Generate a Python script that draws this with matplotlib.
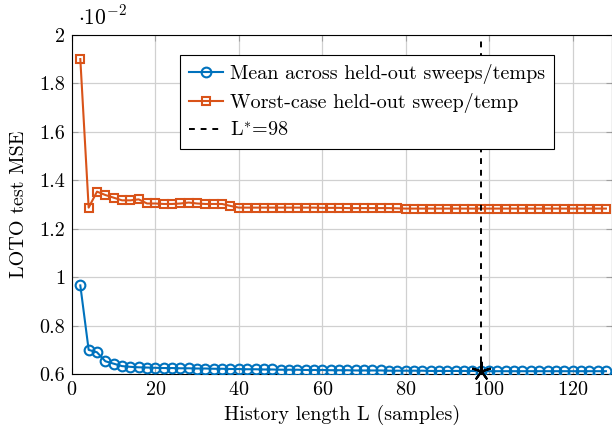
import numpy as np
import matplotlib
matplotlib.use("Agg")
import matplotlib.pyplot as plt

# Computer Modern look (the font files ship with matplotlib)
plt.rcParams['font.family'] = 'cmr10'
plt.rcParams['mathtext.fontset'] = 'cm'
plt.rcParams['axes.unicode_minus'] = False
plt.rcParams['axes.formatter.use_mathtext'] = True

# ---------------------------------------------------------
# Data (values in units of 1e-2)
# ---------------------------------------------------------
hist_len = list(range(2, 130, 2))

mean_mse = [0.966, 0.700, 0.690, 0.653, 0.643, 0.633, 0.630, 0.628,
            0.627, 0.626, 0.625, 0.625, 0.624, 0.624, 0.623, 0.623,
            0.622, 0.622, 0.621, 0.621, 0.620, 0.620, 0.619, 0.619,
            0.618, 0.618, 0.618, 0.617, 0.617, 0.617, 0.616, 0.616,
            0.616, 0.615, 0.615, 0.615, 0.615, 0.614, 0.614, 0.614,
            0.614, 0.614, 0.613, 0.613, 0.613, 0.613, 0.613, 0.613,
            0.612, 0.612, 0.612, 0.612, 0.612, 0.612, 0.612, 0.612,
            0.612, 0.612, 0.612, 0.612, 0.612, 0.612, 0.612, 0.612]

worst_mse = [1.900, 1.287, 1.353, 1.339, 1.328, 1.317, 1.317, 1.321,
             1.304, 1.304, 1.302, 1.302, 1.304, 1.308, 1.304, 1.302,
             1.302, 1.302, 1.294, 1.287, 1.287, 1.287, 1.287, 1.287,
             1.287, 1.287, 1.287, 1.287, 1.287, 1.286, 1.286, 1.286,
             1.285, 1.285, 1.285, 1.285, 1.285, 1.285, 1.284, 1.283,
             1.283, 1.283, 1.283, 1.283, 1.283, 1.283, 1.283, 1.283,
             1.283, 1.283, 1.283, 1.283, 1.283, 1.283, 1.283, 1.283,
             1.283, 1.283, 1.283, 1.283, 1.283, 1.283, 1.283, 1.283]

L_STAR = 98
star_val = mean_mse[hist_len.index(L_STAR)]

BLUE = '#0072BD'
ORANGE = '#D95319'
FS = 14.5

# ---------------------------------------------------------
# Plot
# ---------------------------------------------------------
fig = plt.figure(figsize=(6.12, 4.30), dpi=100)
ax = fig.add_axes([0.1176, 0.130, 0.882, 0.789])

ax.plot(hist_len, mean_mse, color=BLUE, lw=1.5, marker='o', ms=7,
        mfc='none', mew=1.5, label='Mean across held-out sweeps/temps', zorder=3)
ax.plot(hist_len, worst_mse, color=ORANGE, lw=1.5, marker='s', ms=5.5,
        mfc='none', mew=1.5, label='Worst-case held-out sweep/temp', zorder=3)
ax.axvline(L_STAR, color='black', ls=(0, (3, 3)), lw=1.4,
           label=r'L$^{*}$=98', zorder=4)
# pgfplots-style five-armed asterisk
ax.plot([L_STAR], [star_val], marker=(5, 2, 0), color='black', ms=14,
        mew=1.5, zorder=5, clip_on=False)

ax.set_xlim(0, 129.4)
ax.set_ylim(0.6, 2.0)
ax.set_xticks([0, 20, 40, 60, 80, 100, 120])
ax.set_yticks([0.6, 0.8, 1.0, 1.2, 1.4, 1.6, 1.8, 2.0])
ax.set_yticklabels(['0.6', '0.8', '1', '1.2', '1.4', '1.6', '1.8', '2'])
ax.tick_params(direction='in', labelsize=FS, length=4, color='#a0a0a0',
               top=True, right=True, pad=5)
ax.grid(True, color='#d0d0d0', lw=0.9)
ax.set_axisbelow(True)
for s in ax.spines.values():
    s.set_linewidth(0.8)

ax.set_xlabel('History length L (samples)', fontsize=FS, labelpad=4)
ax.set_ylabel('LOTO test MSE', fontsize=FS, labelpad=8)
ax.text(0.012, 1.02, r'$\cdot 10^{-2}$', transform=ax.transAxes,
        fontsize=FS + 1, ha='left', va='bottom')

leg = ax.legend(loc='upper left', bbox_to_anchor=(0.2, 0.94), fontsize=FS,
                fancybox=False, edgecolor='black', framealpha=1,
                handlelength=1.7, handletextpad=0.35, borderpad=0.45,
                labelspacing=0.42, borderaxespad=0)
leg.get_frame().set_linewidth(0.8)

plt.savefig('out.png', dpi=100)
plt.close()
